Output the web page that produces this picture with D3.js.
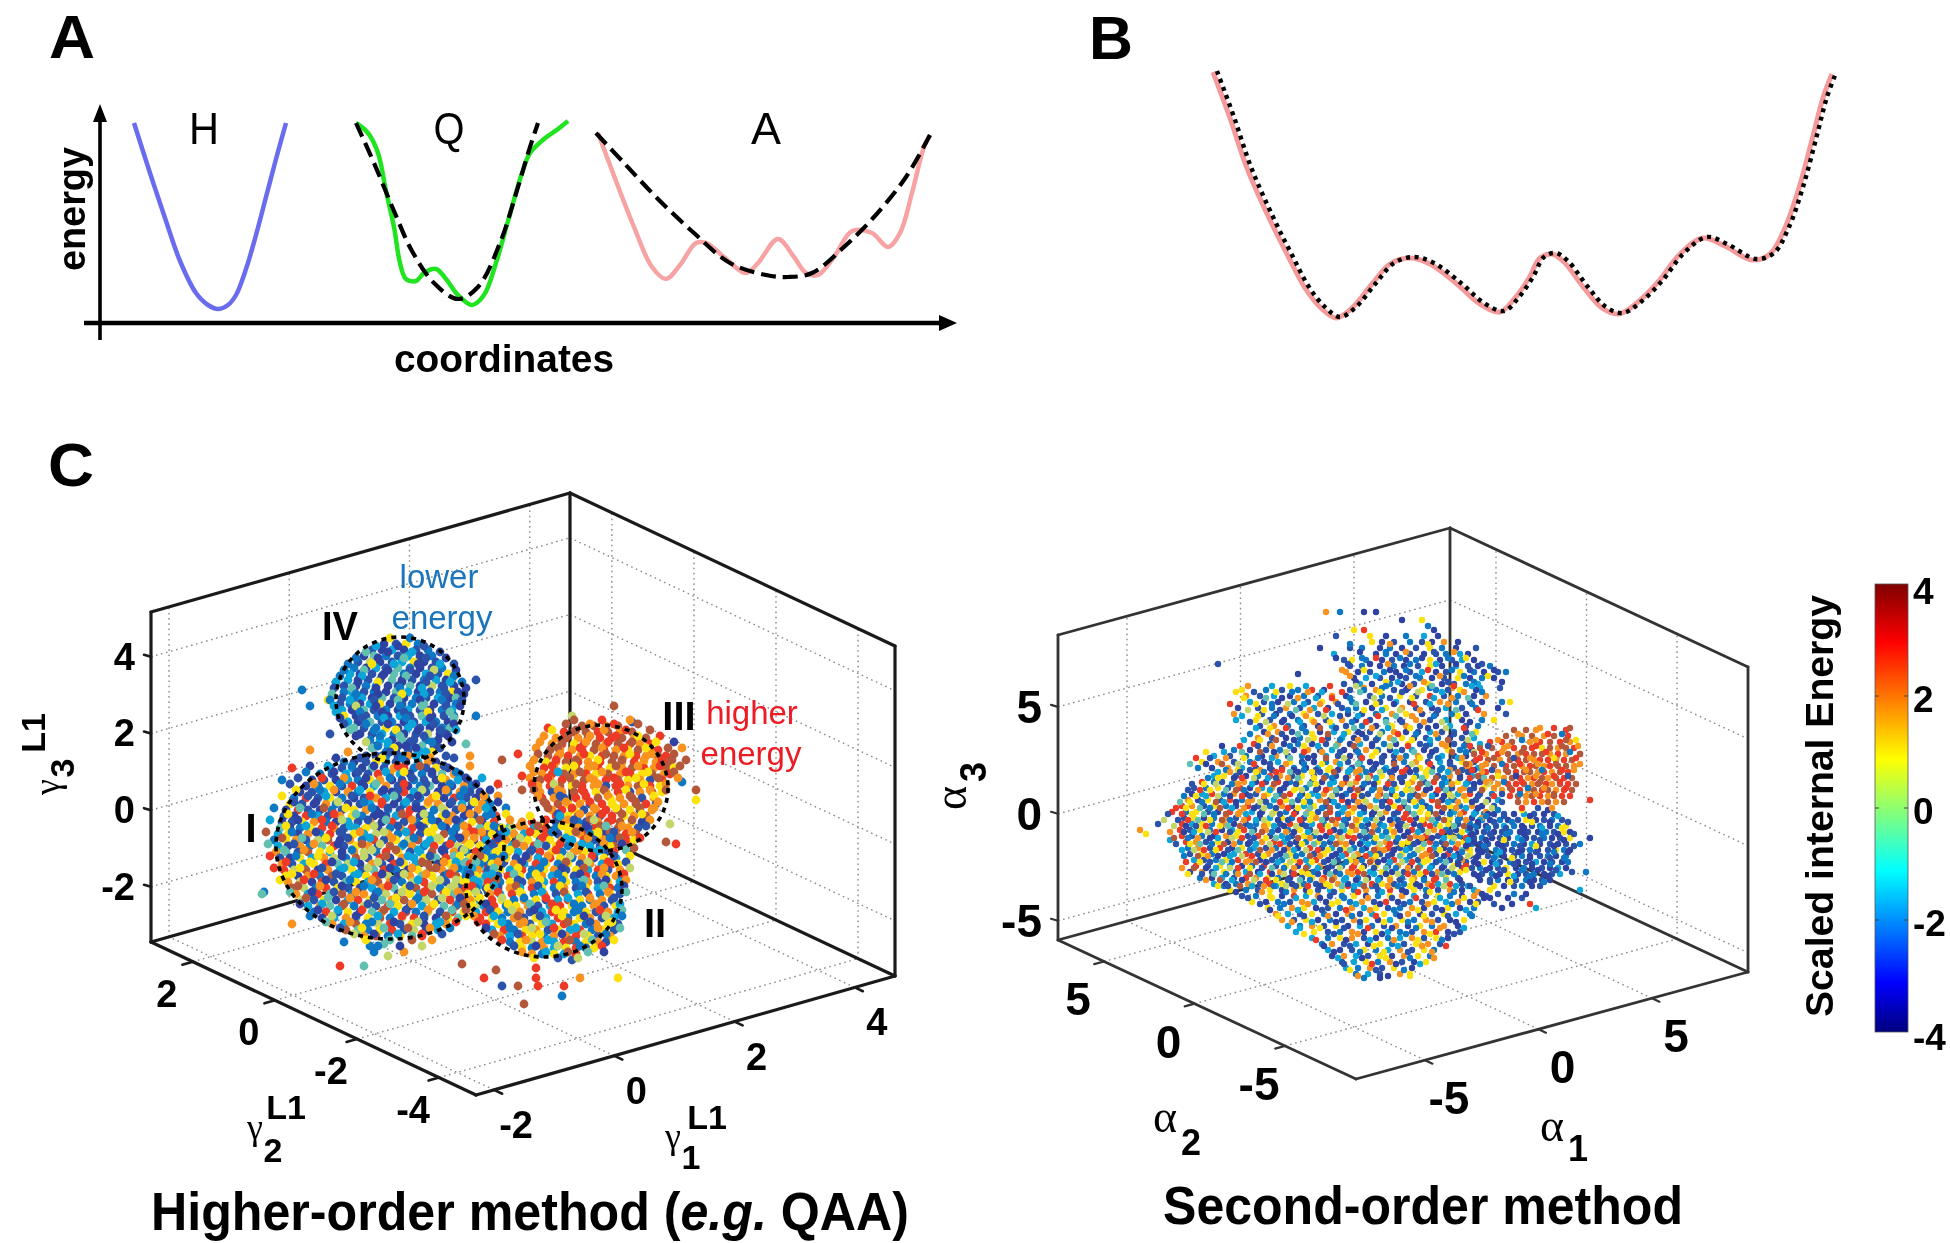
<!DOCTYPE html>
<html><head><meta charset="utf-8">
<style>html,body{margin:0;background:#fff}svg{display:block;filter:blur(.6px)}text{font-family:"Liberation Sans",Arial,sans-serif}</style>
<script src="https://cdnjs.cloudflare.com/ajax/libs/d3/7.8.5/d3.min.js"></script>
</head><body><svg id="c" width="1950" height="1243"></svg>
<script>
// Panel A/B curves: [coordinate, energy].
const curveH=[[17,100],[25,75],[33,51],[40,31],[48,15],[54,9],[59,7],[64,9],[68,14],[73,27],[78,44],[83,63],[88,82],[93,100]];
const curveQ=[[128,100],[134,95],[139,85],[143,66],[147,48],[150,30],[153,22],[158,21],[162,25],[168,27],[173,22],[179,14],[186,9],[192,14],[198,30],[204,51],[211,75],[215,85],[222,92],[229,97],[234,101]];
const curveQfit=[[128,100],[137,80],[147,56],[156,36],[167,20],[179,12],[189,18],[200,40],[209,68],[215,88],[219,100]];
const curveA=[[249,95],[258,71],[267,48],[276,28],[283,22],[290,29],[298,40],[303,40],[312,33],[323,25],[329,30],[339,42],[347,33],[353,25],[359,24],[367,33],[376,46],[386,45],[394,38],[400,45],[406,65],[412,88],[415,94]];
const curveAfit=[[248,95],[262,80],[278,63],[297,45],[315,30],[333,24],[344,23],[356,25],[372,38],[387,53],[403,73],[415,94]];
const curveB=[[17,124],[34,101],[51,76],[74,50],[92,32],[109,16],[125,6],[140,1],[156,6],[176,18],[194,28],[214,31],[234,28],[261,18],[284,8],[304,4],[319,11],[333,21],[344,31],[356,33],[368,29],[388,16],[406,6],[423,3],[442,9],[462,19],[484,33],[507,41],[529,37],[556,30],[574,33],[589,46],[603,66],[616,90],[627,111],[636,123]];

// Cube axes
const xTicksL=[-2,0,2,4], yTicksL=[-4,-2,0,2], zTicksL=[-2,0,2,4];
const xTicksR=[-5,0,5], yTicksR=[-5,0,5], zTicksR=[-5,0,5];
const cbTicks=[-4,-2,0,2,4];
// Energy class of a point (digit in the strings below) -> scaled internal energy
const energyLevels=[-3.4,-2.8,-2,-1.2,-.3,.5,1.1,2,2.8,3.6];

// Scatter values: hand estimates of a representative subset of the visible dots.
// Each row is [vertical position in the projected view, horizontal positions...]
const lowIV=[[228,117,123,128,134],[225,111,116,121,127,133,139],[222,107,112,118,124,129,135,141],[219,104,110,115,121,126,132,137,143],[216,102,108,113,118,124,130,135,141,146],[213,100,105,111,117,122,127,133,138,144,149],[210,99,104,109,115,121,126,131,137,143,148,151],[207,97,103,108,113,119,124,130,135,141,146,152],[204,97,101,107,112,118,123,129,134,140,145,151,154],[201,96,102,106,111,116,122,127,133,138,144,150,153],[198,95,100,105,110,115,120,126,131,137,142,148,153],[195,96,101,107,112,118,124,129,135,140,146,151],[192,97,103,108,114,119,125,130,136,141,147,152],[189,99,104,110,116,121,127,132,138,143,149],[186,102,107,113,118,124,129,135,140,146,150],[183,105,111,116,122,127,133,139,145,148],[180,110,115,121,126,132,138,144],[177,113,119,124,130,136,142],[174,118,123,129,135,141]];
const energyIV="0162103012042130215013601203142012301042031630124012304102301405102312043012601230410213041203601240123041203102360120314012304120132041260310240132015012304120130241201360210341203120412031024012";
const lowIVb=[[231,120,130],[227,113,124,137],[224,108,119,131,145],[221,103,114,127,138,148],[218,99,111,122,134,145,152],[215,97,107,119,130,142,153],[212,95,106,116,128,140,152],[209,93,104,114,126,138,150,156],[206,92,101,113,125,136,147,158],[203,91,103,114,126,137,148,157],[200,90,100,112,124,135,146,156],[197,92,103,113,125,136,148,155],[194,93,105,116,127,139,150],[191,95,106,117,128,140,152],[188,97,108,119,131,142,152],[185,100,112,123,134,145,153],[182,103,115,125,137,149],[179,108,119,130,141,151],[176,111,122,133,145],[172,116,127,138,148]];
const energyIVb="6230140312041026303124015023041230601321402310420631023140213502410320164013204120310426013024105312046012301420136021";
const clusterI=[[172,108,113,118,124,129,133],[169,97,102,108,113,118,123,128,134,139,143],[166,90,96,101,106,111,117,122,127,132,138,143,149],[163,85,91,98,103,109,114,120,125,130,136,141,146,152,155],[160,81,87,93,99,104,110,115,121,126,132,137,143,148,154,159],[157,78,84,90,96,101,107,112,118,124,129,135,140,146,151,157,161],[154,75,81,87,93,99,104,110,116,121,127,132,138,144,149,155,160,165],[151,72,78,84,90,96,102,107,113,118,124,130,135,141,147,152,158,163,168],[148,70,76,82,88,93,99,105,110,116,122,127,133,139,144,150,156,161,166,170],[145,68,74,79,85,91,96,102,108,113,119,125,130,136,142,147,153,159,164,171],[142,67,72,78,84,89,95,101,106,112,118,123,129,135,140,146,151,157,162,168,173],[139,66,71,76,82,88,93,99,104,110,116,121,127,133,138,144,149,155,161,166,172],[136,65,70,75,80,86,92,97,103,108,114,120,125,131,137,142,148,153,159,165,170,175],[133,64,69,74,79,85,90,96,102,107,113,119,124,130,135,141,147,152,158,163,169,175],[130,62,68,73,78,84,89,95,100,106,112,117,123,129,134,140,145,151,157,162,168,173,177],[127,64,69,75,80,86,92,97,103,109,114,120,126,131,137,142,148,154,159,165,170,176],[124,63,68,74,79,85,90,96,102,107,113,118,124,130,135,141,147,152,158,163,169,175],[121,65,70,75,81,87,92,98,103,109,115,120,126,132,137,143,148,154,160,165,171,175],[118,66,71,77,82,88,94,99,105,111,116,122,127,133,139,144,150,156,161,167,172],[115,67,72,78,84,89,95,101,106,112,117,123,129,134,140,146,151,157,162,168,173],[112,68,74,79,85,91,96,102,108,113,119,124,130,136,141,147,153,158,164,170],[109,69,75,81,86,92,98,103,109,114,120,126,131,137,143,148,154,160,165,171],[106,71,77,83,88,94,99,105,111,116,122,128,133,139,145,150,156,162,168],[103,73,79,84,90,96,101,107,113,118,124,130,135,141,147,152,158,164],[100,76,82,87,93,99,104,110,116,121,127,133,138,144,150,155,161],[97,79,85,90,96,102,107,113,119,124,130,136,141,147,153,159],[94,82,88,94,99,105,111,116,122,128,133,139,145,151,157],[91,86,92,98,103,109,115,120,126,132,137,143,149,154],[88,91,97,103,108,114,120,125,131,137,143,148],[85,98,104,109,115,121,127,132,138,144],[82,107,113,119,125,131,136]];
const energyI="1021732016210370213041782160213018730214720103267012107310261803710240172013072610831027102816201730127081026107201380216703172081021670318026107210831762013802670128016720317081260726084026871360278160284713607281635728169075182671590728165936270186307248167093728156820741963075286139072846106375291807364856029713684507186390647128590736148206975318460729136850746193627508146397258610473952861037469825160738492715063984725160386479251806374925186037495281604739251860374692581064739258160379426815037926481560378269154603792486105378946125076389421570368924185706392461850739642815073692841570369428157063982471506398241570639842175603984215706398241570369428175063984215706398";
const clusterIb=[[177,114,128],[174,99,120,138],[171,93,105,116,126,140,152],[167,80,89,101,112,124,135,147,160],[164,78,92,104,118,127,141,153],[161,74,86,97,108,120,131,146,158,166],[158,70,82,95,106,113,127,138,150,163],[155,73,85,92,105,117,124,136,148,157,170],[152,66,79,88,101,110,122,134,143,155,167],[149,72,83,94,107,116,128,139,151,162,174],[146,62,75,87,98,111,119,133,146,156,168],[143,69,81,92,103,115,126,137,148,160,171,178],[140,60,74,86,96,109,118,131,141,153,165],[137,68,78,91,100,112,124,135,146,157,169,180],[134,58,71,83,95,105,117,128,139,151,162,174],[131,66,76,88,99,110,121,132,144,155,167,179],[128,59,72,82,94,106,115,127,138,150,160,172,182],[125,67,77,90,101,111,123,134,146,156,168,178],[122,60,73,84,96,107,118,129,140,152,163,174],[119,68,80,91,102,114,125,136,147,158,170,177],[116,62,75,86,97,109,120,131,143,154,165],[113,71,82,93,104,116,127,138,149,161,172],[110,65,77,88,100,111,122,134,145,156,167],[107,74,85,96,107,119,130,141,152,164,174],[104,70,81,92,103,114,126,137,148,159,169],[101,78,89,100,112,123,134,146,157],[98,75,86,97,109,120,131,142,154,165],[95,84,94,106,117,128,139,151,162],[92,80,91,103,114,126,137,148,158],[89,88,100,111,122,134,145,153],[86,95,106,117,129,140,150],[83,102,112,124,136,146],[80,108,120,131,141],[77,114,125,136]];
const energyIb="2071301627103208917201360218702160317204812062730157206131840627105283716024962105736284095172630851472096383510276492017536280946137250864170952386104762593017482605931472860351974208613507924681305729468027135649702815639401725863094716258039147625038917462503819647205381649725038164972053186247905318264970518326497015832647905138264790513";
const clusterII=[[139,186,191,197,203,208,214],[136,176,181,187,192,198,203,209,214,219],[133,171,176,182,187,193,198,204,209,215,220,224],[130,168,173,178,184,189,195,200,206,211,217,222,227],[127,165,170,176,181,187,192,198,203,209,214,220,225,230],[124,163,168,173,179,184,190,195,201,206,212,217,223,228,232],[121,162,167,172,178,183,189,194,200,205,211,216,222,227,233],[118,160,165,171,176,182,187,193,198,204,209,215,220,226,231,234],[115,159,164,169,175,180,186,191,197,202,208,213,219,224,229,235],[112,158,163,168,174,179,185,190,196,201,207,212,218,223,228,233,236],[109,158,164,169,175,180,186,191,197,202,208,213,219,224,229,235],[106,158,163,169,174,180,185,191,196,202,207,213,218,224,230,234],[103,159,164,170,175,181,186,192,197,203,208,214,219,225,230,235],[100,160,165,171,176,182,187,193,198,204,209,215,220,226,231],[97,161,167,172,178,183,189,194,200,205,211,216,222,227,233],[94,163,168,174,179,185,190,196,201,207,212,218,223,229,234],[91,165,171,176,182,187,193,198,204,209,215,220,226,232],[88,168,174,179,185,190,196,201,207,212,218,223,229,234],[85,171,177,182,188,193,199,204,210,215,221,226,232],[82,175,180,186,191,197,202,208,213,219,224,230],[79,180,185,191,196,202,207,213,218,224,228],[76,186,191,197,202,208,213,218,222],[73,191,196,202,207,213]];
const energyII="7861726573826716273681672638716267381762637816273168267318627631876261738627163826173862617386271638267163817263186273618267163826173862716382617386271638261738627163826173862761386271638267138627163862713862617386271638267138627163862761382671638261738627";
const clusterIIb=[[142,190,205],[140,180,198,212,222],[137,172,185,194,206,218,228],[134,166,178,190,201,213,224,232],[131,162,174,185,196,208,219,230],[128,160,171,183,194,205,216,227,236],[125,157,168,180,191,203,214,225,238],[122,155,165,177,188,199,210,221,232,240],[119,153,163,174,186,197,208,219,229,238],[116,152,161,172,184,195,206,217,227,240],[113,150,160,171,182,193,204,215,226,237],[110,153,162,173,184,195,206,217,228,238],[107,152,161,172,183,194,205,216,227,237],[104,154,163,174,185,196,207,218,229,238],[101,155,165,176,187,198,209,220,232],[98,157,168,179,190,201,212,223,235],[95,158,170,181,192,203,214,225,236],[92,162,172,184,195,206,217,228,236],[89,164,176,187,198,209,220,231],[86,168,180,191,202,213,224,235],[83,172,184,195,206,217,228],[80,176,188,199,210,221,232],[77,182,193,204,215,226],[74,186,198,209,219,227],[71,192,204,214]];
const energyIIb="6378152796047382961705837261948370526187346920758163470295817346209758134620785391624075839162407586391740652837190648273915062847391605283749160258374916052873946105287394061528739406152873940615287394601528739460";
const clusterIII=[[187,216,222,228,234],[184,207,212,218,224,229,235,241],[181,203,208,214,219,225,231,236,242,248],[178,201,206,212,217,223,228,234,240,245,250],[175,200,205,211,216,222,227,233,239,244,250,254],[172,199,204,209,215,220,226,232,237,243,248,254,258],[169,198,203,208,214,219,225,231,236,242,247,253,259],[166,197,202,208,213,219,224,230,236,241,247,252,258,262],[163,196,201,207,212,218,223,229,235,240,246,251,257,260],[160,195,200,206,211,217,222,228,234,239,245,250,256],[157,194,200,205,211,216,222,228,233,239,244,250,255],[154,195,201,206,212,217,223,228,234,240,245,251,256],[151,196,202,207,213,218,224,230,235,241,246,252],[148,198,204,209,215,220,226,231,237,243,248,253],[145,201,206,212,217,223,228,234,240,245,251],[142,203,209,214,220,225,231,237,242,248],[139,207,212,218,224,229,235,241,246],[136,211,217,222,228,234,239,244],[133,216,221,227,233,238,243],[130,221,227,232,238,242],[127,227,232,237]];
const energyIII="9979899897978798897978689798789778987697897876897879867987897867987697867987967897869786978978697896718789687187986717986781796871879678178967186798178617896178697186798617896071869718607896718679871861079861789671860718976";
const clusterIIIb=[[190,212,226,240],[188,208,220,232,244],[185,201,213,227,238,250],[182,197,209,220,233,244,255],[179,195,206,218,229,241,253,262],[176,193,204,215,226,237,248,259,266],[173,194,205,217,228,240,251,262],[170,192,203,213,224,236,247,256,268],[167,190,201,212,222,233,244,255,265],[164,192,204,215,226,238,249,262],[161,190,199,210,220,232,243,254,264],[158,191,202,213,224,235,247,258],[155,192,204,216,227,238,250,258],[152,194,205,218,229,240,252],[149,197,208,220,231,243,254],[146,199,211,222,233,245,252],[143,204,215,226,236,246],[140,209,220,231,241,250],[137,214,225,236,248],[134,218,230,241],[131,224,235,245],[126,230,242]];
const energyIIIb="9879789697897978687978960798786979789679789697897867978973978697897869785978679789679718796978697987697178967989769718976987967897987697896787";
const outliersL=[[205,76],[197,80],[200,89],[210,163],[192,163],[183,90],[178,158],[172,160],[67,95,107],[72,119],[74,127,112],[77,110],[79,97],[78,117],[68,156],[61,167,193,215,234],[65,173],[57,176,184,194,207],[66,193],[48,187],[52,206],[70,211],[104,57],[103,56],[88,71],[175,80],[166,71],[160,66],[170,176],[173,184],[186,199],[162,186],[155,186],[158,174],[152,174],[146,178],[197,232],[192,211],[189,241],[159,266],[155,273],[150,273],[138,260],[129,258],[128,263],[170,261],[167,257]];
const energyOutL="22612147845722249887691988892124778298889872951296598999";

const upperR=[[244,138,145,157,163],[237,189],[235,152,157,192],[232,143,160,168,178,187,194],[229,161,166,172,180,186,191,197,204],[226,135,150,156,165,170,176,183,190,196,203,213],[223,142,163,168,173,180,187,193,198,205,209],[220,147,151,158,166,171,178,183,190,195,201,206,212],[217,150,156,165,172,177,184,190,196,203,209,214,220],[214,148,154,160,167,173,180,186,193,198,205,212,217,224,228],[211,152,158,165,171,178,185,191,197,204,210,216,222],[208,147,155,161,170,176,182,189,196,202,208,214],[218,84],[213,124]];
const energyUpR="7200268016023060121070012020162013020101230162010260130120201603102701201301620120310120160201302016012310102016021088";
const upperRb=[[240,176,186],[228,150,170,189],[224,155,168,178,192,202],[221,143,156,163,175,186,199,208],[218,149,160,169,180,193,203,216],[215,146,157,170,178,189,201,210,222],[212,150,163,175,183,195,207,219],[209,153,168,174,187,199,212,226],[206,157,166,179,190,201,215,225]];
const energyUpRb="06276027170282026107230176028210730272606371207202731072062170";
const wingR=[[205,96,108,116,124,131,137,150,157,163,172,178,186,193,199,205,213],[202,98,105,112,120,127,134,141,148,160,166,175,183,190,197,204,212,218],[199,100,107,114,122,129,136,143,151,158,165,173,180,188,195,203,210,216,226,230],[196,94,104,111,118,125,132,139,146,153,161,168,176,183,191,198,206,213,224],[193,92,106,113,120,127,134,141,149,156,163,171,178,186,193,201,208,217,228],[190,93,103,110,117,124,131,138,146,153,160,168,175,183,190,198,206,216,222],[187,105,112,119,127,134,141,148,156,163,171,178,185,193,200,208,214],[184,107,114,121,128,135,142,149,154,160,166,172,178,184,190,196,202,208,213],[181,104,111,118,125,132,139,146,152,158,164,170,176,182,188,194,200,206,212],[178,102,110,117,124,131,138,144,150,155,161,167,173,179,185,190,196,202,208,215],[175,92,100,108,115,122,129,135,141,147,153,158,164,170,176,181,187,193,199,205,211],[172,82,90,98,106,113,119,126,132,138,144,150,155,161,167,172,178,184,190,196,202,208],[169,76,84,92,100,107,114,120,126,132,138,143,149,155,160,166,172,177,183,189,195,200,206,212],[166,74,81,89,96,103,110,116,122,128,134,140,145,151,156,162,168,173,179,185,191,196,202,208,214]];
const energyWingR="6212801271062160713021701261812073102167201301721026012713012067103120710261301276012071361026170120713026172103120671031207120360127013120671026130127601201381020170312061271032012071301720130162031207120310260127131067120361027130102713061207310120367120310602173012061370120361207120316012071301627103120710361207120136";
const wingRb=[[207,99,111,120,128,140,153,168,180,191,202,211],[204,93,102,113,121,129,136,146,155,165,176,184,196,207,216],[201,97,108,116,124,133,141,150,162,170,181,192,201,209],[198,90,103,111,119,127,135,144,153,163,172,182,190,199,211],[195,99,107,115,123,130,138,149,157,166,175,185,194,203,214],[192,96,104,112,121,128,137,145,154,164,173,181,192,204],[189,100,108,116,125,132,140,151,158,168,176,187,196,210],[186,103,110,118,126,135,143,152,161,169,180,189,198,207],[183,100,109,116,124,131,139,147,156,165,174,183,193,202,211],[180,97,105,113,122,129,136,145,154,163,172,181,190,199,209],[177,86,95,104,111,120,127,134,143,152,161,170,179,188,198,207],[174,78,87,96,105,112,118,127,136,145,154,163,173,182,191,201,212],[171,73,80,88,97,104,111,120,129,138,147,156,166,175,185,194,204],[168,70,78,86,94,102,110,118,127,136,145,154,163,172,181,190,200,210]];
const energyWingRb="7363852748361627384615372640738251637486253714608372561478263571483620751384726150376284175036829147360582714693058271436905827146395081726349058172634905871263409581762340958176234095817263409581726340958";
const redR=[[185,232,238,243,258],[182,228,236,241,247,252,259],[179,220,226,231,240,245,250,255,260],[176,215,221,227,232,237,241,246,250,254,258,262],[173,212,218,224,229,234,238,242,246,250,254,258,265],[170,213,219,225,230,234,238,242,245,249,253,257,261],[167,216,222,228,232,236,240,243,247,250,254,258,262],[164,218,224,229,233,237,240,244,247,251,255,259],[161,221,227,231,235,239,242,246,249,253,257,261],[158,224,229,233,237,241,244,248,251,255,259,263],[155,226,231,235,239,242,246,249,253,257,261],[152,230,234,238,241,245,249,252,256,260],[149,234,238,242,246,249,253,257],[150,270],[173,265]];
const energyRedR="9978979798889789879978986979897897899787989798978878979897897899787989978798979878979897889798798978879897898979879889787979897878797";
const redRb=[[186,245,252,260],[183,234,249,256],[180,224,236,243,258,263],[177,210,219,229,243,256,264],[174,208,216,226,236,248,260],[171,206,215,222,232,240,252,263],[168,208,218,226,235,244,253,265],[165,211,221,228,238,246,256,262],[162,214,224,233,243,252,259],[159,218,227,236,245,255],[156,222,230,239,247,258],[153,226,235,243,252],[146,236,244,251]];
const energyRedRb="78978272796817897287982789176897287978197287960781728987927812798172691702878";
const bandR=[[165,88,94,100,105,111,116,122,127,133,139,144,150,155,161,167,172,178,183,189,195,200,206,212],[162,82,87,93,98,104,110,115,121,126,132,138,143,149,155,160,166,171,177,183,188,194,200,205,211,216],[159,76,82,86,92,97,103,108,114,120,125,131,136,142,148,153,159,164,170,176,181,187,192,198,204,209,215,220],[156,72,78,84,89,95,100,106,111,117,123,128,134,140,145,151,156,162,168,173,179,184,190,196,201,207,212,217],[153,71,76,81,87,92,98,103,109,115,120,126,131,137,143,148,154,159,165,171,176,182,187,193,199,204,210,215,221],[150,69,74,79,85,90,96,101,107,112,118,124,129,135,140,146,152,157,163,168,174,180,185,191,196,202,208,213,219,224],[147,66,71,77,82,88,93,99,104,110,116,121,127,132,138,144,149,155,160,166,172,177,183,188,194,200,205,211,216,222],[144,61,68,73,79,84,90,95,101,106,112,118,123,129,134,140,146,151,157,162,168,174,179,185,190,196,202,207,213,218],[141,67,72,77,82,88,93,99,105,110,116,121,127,133,138,144,149,155,161,166,172,177,183,189,194,200,205,211,216],[138,54,66,71,76,81,87,92,98,103,109,115,120,126,131,137,143,148,154,159,165,171,176,182,187,193,199,204,210,214],[135,45,65,70,75,80,86,91,97,102,108,114,119,125,130,136,142,147,153,158,164,170,175,181,186,192,198,203,209],[133,48],[132,66,71,76,82,88,93,99,104,110,116,121,127,132,138,144,149,155,160,166,172,177,183,188,194,200,205,210],[130,60],[129,68,73,78,84,89,95,100,106,112,117,123,128,134,140,145,151,156,162,168,173,179,184,190,196,201,207,212],[126,69,74,80,85,91,96,102,108,113,119,124,130,136,141,147,152,158,164,169,175,180,186,192,197,203,208],[123,70,76,81,87,92,98,104,109,115,120,126,132,137,143,148,154,160,165,171,176,182,188,193,199,204,210],[120,72,77,83,88,94,100,105,111,116,122,128,133,139,144,150,156,161,167,172,178,184,189,195,200,206],[117,73,79,85,90,96,101,107,113,118,124,129,135,141,146,152,157,163,169,174,180,185,191,197,202,208],[114,70,76,81,87,93,98,104,110,115,121,126,132,138,143,149,154,160,166,171,177,182,188,194,199,205],[111,75,81,86,92,98,103,109,114,120,126,131,137,142,148,154,159,165,170,176,182,187,193,198,204],[108,82,88,93,99,105,110,116,121,127,133,138,144,149,155,161,166,172,177,183,189,194,200,206]];
const energyBandR="2617180216037120816271036102871602173860126170318216701826103871620718362071261803716207180216380217160382701628037126180217063812706182703612708163021780261038716208127036128071603186270182610873162071836207126103827160271803621708162038071620718362701261803271602710836120781620381702618037126081720368120761803162078123607816203871602178302617032716081360271806312708136207812630871620381706216087310627180631268701263801627083162078163028160371280617032168071623087162017836012871620318762016873201627086130271860216703861207381602718360217860128736207186301627801623870126183076210837162078136207162803176208163027186302716083126708163207816032718602371680217360871206381720682163071280136271806320178163207186302718063271806";
const bandRb=[[164,84,90,95,103,107,113,120,124,131,135,142,149,153,158,165,170,176,180,188,191,199,204,209,216],[161,79,84,92,96,102,109,113,119,124,132,137,141,148,154,159,163,171,175,182,186,193,197,205,210,217],[158,71,77,83,91,94,101,106,112,118,123,130,133,140,146,150,157,162,169,172,179,185,189,196,201,208,212,219],[155,69,75,80,88,93,97,104,110,115,122,126,133,138,143,150,154,161,165,171,178,181,188,194,198,205,210,216],[152,67,73,78,84,90,96,100,107,113,117,125,129,134,141,146,152,156,164,168,173,180,184,191,197,201,207,214,222],[149,65,70,76,83,87,93,99,105,108,115,121,127,130,138,142,149,154,158,166,170,177,182,186,194,199,204,211,218,226],[146,63,68,75,80,85,91,97,102,107,113,119,124,130,136,140,147,152,157,163,169,175,179,186,190,197,203,208,214,221],[143,59,66,71,77,82,88,94,98,105,111,115,122,128,131,138,144,149,155,161,165,172,178,182,189,193,200,205,212,219],[140,57,64,69,74,80,86,90,97,103,107,114,119,125,130,136,141,147,153,158,163,170,174,180,186,191,197,204,208,215],[137,62,68,73,78,85,89,95,100,107,112,117,123,128,135,139,146,151,156,162,167,174,178,185,190,195,202,207,213],[134,60,67,72,79,83,90,94,101,106,111,118,122,129,133,140,145,150,157,161,168,172,179,184,189,196,200,206,211],[131,62,69,74,80,84,91,96,102,108,113,119,124,130,135,141,146,152,158,163,169,174,180,186,191,197,202,208],[128,63,70,75,81,87,92,99,103,110,115,120,126,132,137,143,148,155,159,165,170,176,182,187,193,198,204,209],[125,66,72,77,83,89,94,100,105,111,117,122,128,134,139,145,150,156,162,167,172,178,184,190,195,200,206],[122,67,74,79,84,90,96,101,107,113,118,123,130,135,141,146,152,158,163,169,175,180,186,191,197,202,209],[119,68,75,80,86,91,98,103,108,114,120,125,131,137,142,148,153,160,164,170,176,181,187,193,198,204],[116,66,72,78,83,90,94,100,106,111,117,122,128,134,139,145,151,156,162,168,173,179,184,190,196,201,207],[113,69,76,82,88,94,100,105,111,117,122,129,134,140,145,151,157,162,168,174,179,185,191,196,202],[110,78,85,91,96,102,108,113,119,125,130,136,141,147,153,158,164,170,175,181,187,192,198,205],[107,84,89,95,101,107,112,118,123,129,135,140,146,152,157,163,169,174,180,185,191,197,203,210]];
const energyBandRb="3716284061937251806439172608531746920853716492084165273890146375208169427305186492730651841927365084719263508174926350817462930571846293075184629307518462937051864293705186429370518462973051864297305184692730518469273051846927350186492735018649273501864927305186492730518649270358164927035816492703581649270358164297035816429703581642970358164297035861429703586142970358614297035861429703586142970358614279035861427903586142790358614279035861427930586142793058614279305861427930586142793058614279305";
const rightBlueR=[[143,217,222,227,232,237,242,247,252],[140,216,220,225,229,234,238,243,247,251,256],[137,214,218,223,227,232,236,241,245,250,254,258],[134,213,217,222,226,230,235,239,244,248,252,257,260],[131,212,216,221,225,229,234,238,242,247,251,255,260,270],[128,211,215,219,224,228,232,237,241,245,250,254,258,265],[125,210,214,218,223,227,231,236,240,244,249,253,257,260],[122,210,214,219,223,227,232,236,240,245,249,253,258],[119,208,212,217,221,225,230,234,238,243,247,251,256,259],[116,206,211,215,220,224,228,233,237,241,246,250,254,258],[114,261,268],[113,212,216,221,225,229,234,238,242,247,251,255],[110,215,220,224,229,233,238,242,246,250],[107,222,227,232,236,241,245],[105,265],[103,216,224,232,238],[98,222,231,240]];
const energyBlueR="2010310120201601210013201202601012010216012010301201602010120301012601201020162010130120120210601201301020120160201030120120601201301201201060120130120108010";
const rightBlueRb=[[145,224,236,249],[142,218,227,240,254],[139,214,222,231,241,250,259],[136,210,219,228,237,246,256],[133,211,220,228,237,246,254,262],[130,209,218,227,236,245,257],[127,208,217,226,235,243,252,262],[124,206,216,225,234,243,252,259],[121,205,213,222,231,240,250,257],[118,204,214,223,232,241,250],[115,208,218,227,236,244,253],[112,214,223,232,240,249],[109,220,230,240,247],[101,220,229,236],[96,226,243]];
const energyBlueRb="2602103012601021036012020130621002016012030120102601200310260120100320160200103126010200160";
const bottomR=[[105,90,98,104,110,116,122,128,134,140,146,152,158,164,170,176,182,188,194,200,206,212,220],[102,96,103,110,116,122,128,134,140,146,152,158,164,170,176,182,188,194,200,206,212,218],[99,101,108,114,120,126,132,138,144,150,156,162,168,174,180,186,192,198,204,210,214],[96,109,115,121,127,133,139,145,151,157,163,169,175,181,187,193,199,205,212],[93,113,119,125,131,137,143,149,155,161,167,173,179,185,191,197,203,210],[90,116,122,128,134,140,146,152,158,164,170,176,182,188,194,200,207],[87,119,125,131,137,143,149,155,161,167,173,179,185,191,197,204],[84,123,132,139,145,151,157,163,169,175,181,187,193,199,205],[81,131,139,145,151,157,163,169,175,181,187,193,199],[78,136,141,147,153,159,165,171,177,183,189,195],[75,139,145,151,157,163,169,175,181,187,192],[72,141,147,153,159,165,171,177,184,190],[69,146,152,158,164,170,176,182,188],[66,148,154,160,166,172,181],[63,153,159,165,175,180],[61,157,165]];
const energyBottomR="6216070136271806217036126083712602673162071602173062718021637016276012736127016027316207136270163271602176036271063271603217062703612706321780132671023716027130621671301623716207316076213627106327160231762016370126713620637162016371206371623716207361207316271603716271602173";
const bottomRb=[[107,87,101,113,125,137,149,161,173,185,197,209,222],[104,93,106,118,130,142,154,166,178,190,202,214],[101,99,111,123,135,147,159,171,183,195,207,217],[98,105,117,129,141,153,165,177,189,201,213],[95,110,124,136,148,160,172,184,196,208],[92,114,127,139,151,163,175,187,199,211],[89,121,131,143,155,167,179,191,203],[86,125,135,147,159,171,183,195,207],[83,127,142,154,166,178,190,202],[80,133,148,160,172,184,196],[77,137,150,162,174,186,198],[74,142,155,167,179,191],[71,144,156,168,180,192],[68,147,161,173,185],[65,150,163,177],[62,154,169,180]];
const energyBottomRb="2736082617360726183062716302718360127630172603187260361728061273016270361802736170261803762016378026173062718036127063";

// ---------------------------------------------------------------------------
const svg=d3.select("#c");
const jet=[["0%","#00007f"],["11%","#0000ff"],["36%","#00ffff"],["61%","#ffff00"],["87%","#ff0000"],["100%","#7f0000"]];
const dotColour=d3.scaleLinear().domain([-3.6,-2.8,-2,-1.2,-.3,.5,1.1,2,2.8,3.6]).range(["#2f3c9e","#2c53aa","#0f78c4","#0ba5da","#62c0b0","#c3d66a","#fbe20f","#f7931e","#ec3a26","#b4583c"]);
function txt(x,y,s,o={}){const t=svg.append("text").attr("x",x).attr("y",y).attr("text-anchor",o.anchor||"middle").attr("dominant-baseline",o.base||"central").attr("font-size",o.size||30).attr("font-weight",o.weight||"bold").attr("fill",o.fill||"#000").text(s);
 if(o.font)t.style("font-family",o.font);if(o.style)t.attr("font-style",o.style);if(o.rot!=null)t.attr("transform",`rotate(${o.rot} ${x} ${y})`);if(o.len)t.attr("textLength",o.len).attr("lengthAdjust","spacingAndGlyphs");return t;}
const SERIF='"Liberation Serif",serif';

// Panel A
const ax=d3.scaleLinear().domain([0,500]).range([100,1100]), ay=d3.scaleLinear().domain([0,100]).range([323,123]);
const bx=d3.scaleLinear().domain([0,700]).range([1200,1900]), by=d3.scaleLinear().domain([0,150]).range([319,19]);
const spline=(x,y)=>d3.line().x(d=>x(d[0])).y(d=>y(d[1])).curve(d3.curveCatmullRom.alpha(.5));
const draw=(d,x,y,c,w,dash)=>svg.append("path").attr("d",spline(x,y)(d)).attr("fill","none").attr("stroke",c).attr("stroke-width",w).attr("stroke-dasharray",dash||null);
draw(curveH,ax,ay,"#6a6cee",4.5);draw(curveQ,ax,ay,"#1fe41f",4.5);draw(curveA,ax,ay,"#f8a3a3",4.5);
draw(curveQfit,ax,ay,"#000",4.2,"15 7");draw(curveAfit,ax,ay,"#000",4.2,"15 7");
svg.append("path").attr("d","M100 340V112").attr("stroke","#000").attr("stroke-width",3.6);
svg.append("path").attr("d","M84 323H945").attr("stroke","#000").attr("stroke-width",4.5);
svg.append("path").attr("d","M100 104l-7 18h14zM957 323l-18 -8v16z").attr("fill","#000");
txt(204,128,"H",{size:44,weight:"normal",len:30});txt(449,128,"Q",{size:44,weight:"normal",len:31});txt(766,128,"A",{size:44,weight:"normal",len:30});
txt(71,209,"energy",{size:39,rot:-90,len:124});txt(504,359,"coordinates",{size:38,len:220});
txt(72,36,"A",{size:62,len:46});txt(1111,37,"B",{size:62,len:44});txt(71,464,"C",{size:62,len:46});
// Panel B
svg.append("g").attr("transform","translate(-4,1)").append("path").attr("d",spline(bx,by)(curveB)).attr("fill","none").attr("stroke","#f59a9a").attr("stroke-width",5);
draw(curveB,bx,by,"#000",4.4,"4 4.6");

// 3D boxes
function cube(P,xd,yd,zd,xt,yt,zt,cfg){
 const fx=d3.scaleLinear().domain(xd).range([0,1]),fy=d3.scaleLinear().domain(yd).range([0,1]),fz=d3.scaleLinear().domain(zd).range([0,1]);
 const p=(x,y,z)=>{const a=fx(x),b=fy(y),c=fz(z);return [P.F[0]+a*(P.R[0]-P.F[0])+b*(P.L[0]-P.F[0]),P.F[1]+a*(P.R[1]-P.F[1])+b*(P.L[1]-P.F[1])+c*(P.H)];};
 const seg=(a,b,o)=>svg.append("line").attr("x1",a[0]).attr("y1",a[1]).attr("x2",b[0]).attr("y2",b[1]).attr("stroke",o.c).attr("stroke-width",o.w).attr("stroke-dasharray",o.d||null).attr("stroke-linecap",o.cap||"round");
 const [x0,x1]=xd,[y0,y1]=yd,[z0,z1]=zd, g={c:"#8b8b8b",w:1.4,d:"1.6 3.6",cap:"butt"}, k={c:cfg.line,w:cfg.lw};
 xt.forEach(v=>{seg(p(v,y0,z0),p(v,y1,z0),g);seg(p(v,y1,z0),p(v,y1,z1),g);});
 yt.forEach(v=>{seg(p(x0,v,z0),p(x1,v,z0),g);seg(p(x1,v,z0),p(x1,v,z1),g);});
 zt.forEach(v=>{seg(p(x0,y1,v),p(x1,y1,v),g);seg(p(x1,y1,v),p(x1,y0,v),g);});
 [[[x0,y1,z1],[x1,y1,z1]],[[x1,y1,z1],[x1,y0,z1]],[[x1,y0,z1],[x1,y0,z0]],[[x1,y0,z0],[x0,y0,z0]],[[x0,y0,z0],[x0,y1,z0]],[[x0,y1,z0],[x0,y1,z1]],[[x1,y1,z1],[x1,y1,z0]],[[x1,y1,z0],[x0,y1,z0]],[[x1,y1,z0],[x1,y0,z0]]].forEach(([a,b])=>seg(p(...a),p(...b),k));
 xt.forEach(v=>{const a=p(v,y0,z0),b=p(v,y0+(y1-y0)*.025,z0);seg(a,[2*a[0]-b[0],2*a[1]-b[1]],{c:cfg.line,w:cfg.lw-.6});txt(a[0]+cfg.xo[0],a[1]+cfg.xo[1],String(v),{size:cfg.fs});});
 yt.forEach(v=>{const a=p(x0,v,z0),b=p(x0+(x1-x0)*.025,v,z0);seg(a,[2*a[0]-b[0],2*a[1]-b[1]],{c:cfg.line,w:cfg.lw-.6});txt(a[0]+cfg.yo[0],a[1]+cfg.yo[1],String(v),{size:cfg.fs});});
 zt.forEach(v=>{const a=p(x0,y1,v);seg(a,[a[0]-7,a[1]-2],{c:cfg.line,w:cfg.lw-.6});txt(cfg.zx,a[1],String(v),{size:cfg.fs,anchor:"end"});});
}
cube({F:[476,1095],R:[895,976],L:[151,942],H:-330},[-2.3,4.67],[-4.9,3.02],[-3.44,5.17],xTicksL,yTicksL,zTicksL,{line:"#1a1a1a",lw:3.2,fs:38,xo:[22,35],yo:[-26,32],zx:135});
cube({F:[1356,1079],R:[1748,972],L:[1058,940],H:-305},[-8.04,9.23],[-8.92,7.54],[-5.9,8.36],xTicksR,yTicksR,zTicksR,{line:"#333",lw:2.8,fs:46,xo:[24,38],yo:[-26,38],zx:1042});

// Scatter
const hL=d3.scaleLinear().domain([0,400]).range([150,950]), wL=d3.scaleLinear().domain([0,350]).range([1100,400]);
const hR=d3.scaleLinear().domain([0,400]).range([1050,1850]), wR=wL;
const unroll=(rows,en)=>{let i=0;return rows.flatMap(([w,...hs])=>hs.map(h=>({h,w,e:energyLevels[+en[i++%en.length]]})));};
function dots(rows,en,hs,ws,r){svg.append("g").selectAll("circle").data(unroll(rows,en)).join("circle").attr("cx",d=>hs(d.h)).attr("cy",d=>ws(d.w)).attr("r",r).attr("fill",d=>dotColour(d.e));}
[[outliersL,energyOutL],[clusterIII,energyIII],[clusterIIIb,energyIIIb],[lowIV,energyIV],[lowIVb,energyIVb],[clusterI,energyI],[clusterIb,energyIb],[clusterII,energyII],[clusterIIb,energyIIb]].forEach(([a,b])=>dots(a,b,hL,wL,4.4));
[[upperR,energyUpR],[upperRb,energyUpRb],[wingR,energyWingR],[wingRb,energyWingRb],[bottomR,energyBottomR],[bottomRb,energyBottomRb],[rightBlueR,energyBlueR],[redR,energyRedR],[bandR,energyBandR],[bandRb,energyBandRb],[rightBlueRb,energyBlueRb],[redRb,energyRedRb]].forEach(([a,b])=>dots(a,b,hR,wR,3.2));

// Region outlines
[[400,700,64,63],[390,846,114,93],[544,889,78,68],[601,788,67,63]].forEach(([cx,cy,rx,ry])=>svg.append("ellipse").attr("cx",cx).attr("cy",cy).attr("rx",rx).attr("ry",ry).attr("fill","none").attr("stroke","#000").attr("stroke-width",3.6).attr("stroke-dasharray","5 5"));
txt(340,626,"IV",{size:40,len:36});txt(251,828,"I",{size:40});txt(655,923,"II",{size:40});txt(679,716,"III",{size:40});
txt(439,576,"lower",{size:33,weight:"normal",fill:"#1b75bb"});txt(442,617,"energy",{size:33,weight:"normal",fill:"#1b75bb"});
txt(752,712,"higher",{size:33,weight:"normal",fill:"#ed1c24"});txt(751,753,"energy",{size:33,weight:"normal",fill:"#ed1c24"});

// Axis labels
txt(47,787,"γ",{size:36,weight:"normal",font:SERIF,rot:-90});txt(62,768,"3",{size:34,rot:-90});txt(33,733,"L1",{size:34,rot:-90});
txt(255,1127,"γ",{size:36,weight:"normal",font:SERIF});txt(273,1150,"2",{size:34});txt(286,1107,"L1",{size:34});
txt(673,1136,"γ",{size:36,weight:"normal",font:SERIF});txt(691,1157,"1",{size:34});txt(707,1117,"L1",{size:34});
txt(950,798,"α",{size:46,weight:"normal",font:SERIF,rot:-90});txt(973,772,"3",{size:36,rot:-90});
txt(1165,1116,"α",{size:46,weight:"normal",font:SERIF});txt(1191,1142,"2",{size:36});
txt(1552,1125,"α",{size:46,weight:"normal",font:SERIF});txt(1578,1148,"1",{size:36});
const title=txt(151,1211,"",{size:53,anchor:"start",len:758});
title.append("tspan").text("Higher-order method (");title.append("tspan").attr("font-style","italic").text("e.g.");title.append("tspan").text(" QAA)");
txt(1423,1205,"Second-order method",{size:53,len:520});

// Colour bar
const cb=d3.scaleLinear().domain([-4,4]).range([1032,584]);
const gr=svg.append("defs").append("linearGradient").attr("id","jet").attr("x1",0).attr("x2",0).attr("y1",1).attr("y2",0);
jet.forEach(([o,c])=>gr.append("stop").attr("offset",o).attr("stop-color",c));
svg.append("rect").attr("x",1875).attr("y",cb(4)).attr("width",33).attr("height",cb(-4)-cb(4)).attr("fill","url(#jet)").attr("stroke","#555").attr("stroke-width",.8);
cbTicks.forEach(v=>{if(Math.abs(v)<4){svg.append("path").attr("d",`M1875 ${cb(v)}h4M1908 ${cb(v)}h-4`).attr("stroke","#444").attr("stroke-width",1);}txt(1913,cb(v)+(v==4?7:v==-4?5:3),String(v),{size:37,anchor:"start"});});
txt(1820,806,"Scaled internal Energy",{size:38,rot:-90,len:422});
</script></body></html>
